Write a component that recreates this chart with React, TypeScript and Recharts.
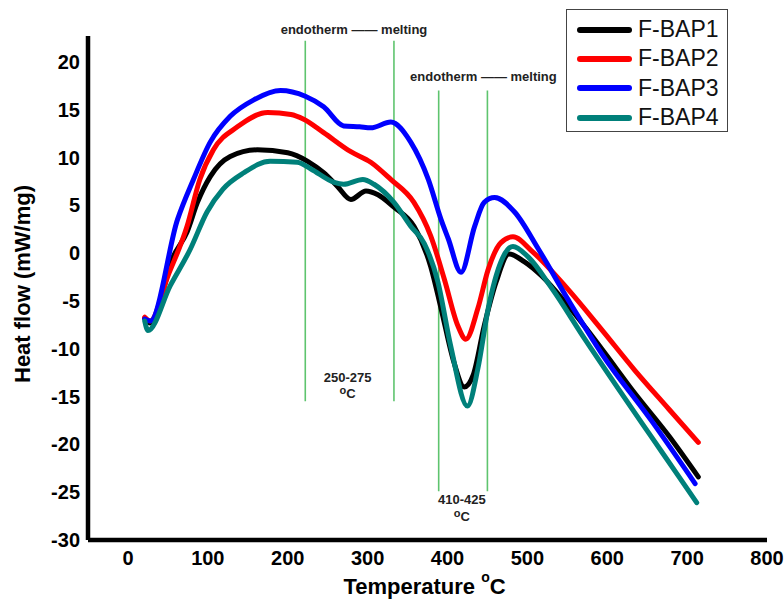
import React from "react";
import {
  Legend,
  Line,
  LineChart,
  ReferenceDot,
  ReferenceLine,
  XAxis,
  YAxis,
} from "recharts";

// [temperature °C, heat flow mW/mg]
const bap1 = [
  [21, -6.8], [28, -7.3], [57, -0.3], [74, 2.2], [87, 5.3], [103, 8], [128, 10.1],
  [162, 10.8], [200, 10.5], [225, 9.6], [245, 8.4], [262, 7.0], [279, 5.6],
  [298, 6.5], [313, 6.1], [333, 4.8], [358, 2.8], [379, -1.4], [392, -5.8],
  [408, -11.4], [421, -14.0], [432, -12.8], [446, -7.6], [461, -3.0], [477, -0.1],
  [496, -0.9], [518, -2.4], [551, -5.5], [593, -10.0], [634, -14.6], [677, -19.1],
  [714, -23.4],
];
const bap2 = [
  [21, -6.7], [28, -7.1], [50, -2.4], [74, 2.8], [90, 7.7], [107, 10.8], [137, 13.2],
  [175, 14.7], [204, 14.5], [220, 14.0], [245, 12.6], [279, 10.6], [304, 9.5],
  [329, 7.7], [358, 5.3], [379, 1.8], [396, -2.7], [413, -7.6], [423, -9.0],
  [438, -5.8], [451, -1.7], [467, 1.1], [482, 1.7], [507, 0.1], [551, -3.8],
  [593, -8.0], [634, -12.2], [677, -16.3], [714, -19.8],
];
const bap3 = [
  [21, -6.9], [28, -7.1], [62, 3.5], [82, 7.7], [103, 11.6], [128, 14.3],
  [157, 16], [191, 17.0], [222, 16.4], [245, 15.3], [270, 13.3], [290, 13.2],
  [304, 13.1], [329, 13.7], [354, 11.6], [376, 7.7], [392, 3.5], [401, 1.5],
  [417, -2.0], [434, 2.8], [446, 5.3], [459, 5.8], [484, 4.3], [514, 0.4],
  [552, -5.0], [593, -10.5], [656, -17.6], [710, -24.1],
];
const bap4 = [
  [21, -7.1], [25, -8.1], [53, -3.4], [78, 0.4], [99, 4.3], [119, 6.7], [145, 8.4],
  [178, 9.6], [212, 9.5], [229, 8.8], [258, 7.4], [270, 7.2], [294, 7.7],
  [308, 7.2], [333, 5.3], [354, 2.8], [371, 1.0], [388, -3.0], [404, -9.7],
  [425, -16.0], [438, -12.1], [451, -5.8], [467, -0.9], [482, 0.7], [501, -0.4],
  [530, -3.6], [572, -9.0], [614, -14.2], [656, -19.3], [689, -23.3], [712, -26.1],
];

const seriesNames = ["F-BAP1", "F-BAP2", "F-BAP3", "F-BAP4"];
const seriesPoints = [bap1, bap2, bap3, bap4];
const seriesColors = ["#000000", "#ff0000", "#0000ff", "#00807a"];

const xTicks = [0, 100, 200, 300, 400, 500, 600, 700, 800];
const yTicks = [-30, -25, -20, -15, -10, -5, 0, 5, 10, 15, 20];

// green marker lines: [temperature, top, bottom]
const markers = [
  [222, 22.2, -15.5],
  [333, 22.2, -15.5],
  [389, 17, -24.9],
  [450, 17, -24.9],
];
// annotation texts: [temperature, heat flow, text, with °C line]
const notes: [number, number, string, boolean][] = [
  [283, 23.4, "endotherm —— melting", false],
  [445, 18.5, "endotherm —— melting", false],
  [275, -13.0, "250-275", true],
  [418, -25.8, "410-425", true],
];

const FONT = "'Liberation Sans', Arial, sans-serif";

const toRows = (pts: number[][]) => pts.map(([t, hf]) => ({ t, hf }));

const NoteText = ({ cx, cy, text, degree }: any) => (
  <g fontFamily={FONT} fontWeight="bold" fill="#222">
    <text x={cx} y={cy} textAnchor="middle" dominantBaseline="central" fontSize={13}>
      {text}
    </text>
    {degree && (
      <text x={cx} y={cy + 21} textAnchor="middle" fontSize={13}>
        <tspan fontSize={11} dy={-4}>o</tspan>
        <tspan dy={4}>C</tspan>
      </text>
    )}
  </g>
);

const LegendBox = () => (
  <div
    style={{
      boxSizing: "border-box",
      width: 162,
      height: 123,
      border: "1.5px solid #444",
      background: "#fff",
      padding: "5px 0 0 10px",
      fontFamily: FONT,
    }}
  >
    {seriesNames.map((name, i) => (
      <div key={name} style={{ display: "flex", alignItems: "center", height: 29.3 }}>
        <div
          style={{
            width: 55,
            height: 6,
            borderRadius: 3,
            background: seriesColors[i],
            marginRight: 6,
          }}
        />
        <span style={{ fontSize: 23, color: "#111", lineHeight: 1 }}>{name}</span>
      </div>
    ))}
  </div>
);

export default function App() {
  return (
    <div style={{ position: "absolute", left: 0, top: 0, width: 784, height: 601 }}>
      <LineChart
        width={784}
        height={601}
        margin={{ top: 36, right: 17, bottom: 8, left: 28 }}
      >
        <XAxis
          type="number"
          dataKey="t"
          domain={[-50, 800]}
          ticks={xTicks}
          allowDataOverflow
          tickLine={false}
          tickMargin={5}
          height={53}
          axisLine={{ stroke: "#000", strokeWidth: 4.5 }}
          tick={{ fontSize: 20, fontWeight: "bold", fill: "#000", fontFamily: FONT }}
          label={({ viewBox }: any) => (
            <text
              x={viewBox.x + viewBox.width / 2 - 3}
              y={viewBox.y + 54}
              textAnchor="middle"
              fontFamily={FONT}
              fontWeight="bold"
              fontSize={22}
              fill="#000"
            >
              Temperature <tspan fontSize={14} dy={-12}>o</tspan>
              <tspan dy={12}>C</tspan>
            </text>
          )}
        />
        <YAxis
          type="number"
          domain={[-30, 22.7]}
          ticks={yTicks}
          allowDataOverflow
          width={60}
          tickLine={false}
          axisLine={{ stroke: "#000", strokeWidth: 4.5 }}
          tick={{ fontSize: 20, fontWeight: "bold", fill: "#000", fontFamily: FONT }}
          label={({ viewBox }: any) => {
            const x = 22;
            const y = viewBox.y + viewBox.height / 2 - 4;
            return (
              <text
                x={x}
                y={y}
                transform={`rotate(-90 ${x} ${y})`}
                textAnchor="middle"
                dominantBaseline="central"
                fontFamily={FONT}
                fontWeight="bold"
                fontSize={22}
                fill="#000"
              >
                Heat flow (mW/mg)
              </text>
            );
          }}
        />
        {markers.map(([t, top, bottom], i) => (
          <ReferenceLine
            key={`m${i}`}
            segment={[
              { x: t, y: top },
              { x: t, y: bottom },
            ]}
            stroke="#5ec46e"
            strokeWidth={1.6}
            ifOverflow="visible"
          />
        ))}
        {seriesNames.map((name, i) => (
          <Line
            key={name}
            name={name}
            data={toRows(seriesPoints[i])}
            dataKey="hf"
            type="monotone"
            stroke={seriesColors[i]}
            strokeWidth={5}
            strokeLinecap="round"
            strokeLinejoin="round"
            dot={false}
            isAnimationActive={false}
          />
        ))}
        {notes.map(([t, hf, text, degree], i) => (
          <ReferenceDot
            key={`n${i}`}
            x={t}
            y={hf}
            r={0}
            ifOverflow="visible"
            shape={(p: any) => <NoteText cx={p.cx} cy={p.cy} text={text} degree={degree} />}
          />
        ))}
        <Legend
          layout="vertical"
          align="center"
          verticalAlign="middle"
          wrapperStyle={{ top: 9, left: 566, width: 162, height: 123 }}
          content={() => <LegendBox />}
        />
      </LineChart>
    </div>
  );
}
